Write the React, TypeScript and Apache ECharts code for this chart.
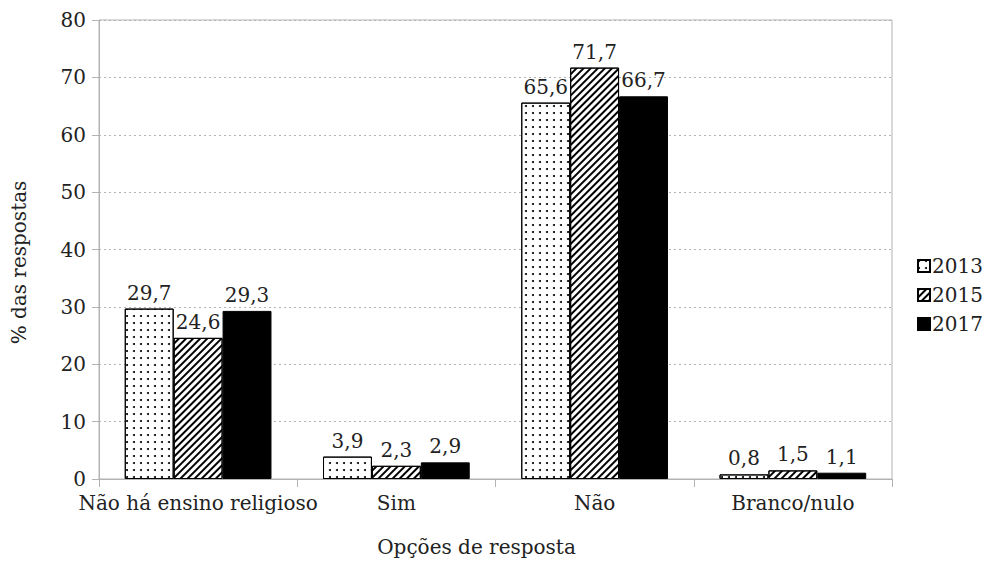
import React, { useEffect, useRef } from "react";
import * as echarts from "echarts";

const categories = ["Não há ensino religioso", "Sim", "Não", "Branco/nulo"];
const years = ["2013", "2015", "2017"];
const values2013 = [29.7, 3.9, 65.6, 0.8];
const values2015 = [24.6, 2.3, 71.7, 1.5];
const values2017 = [29.3, 2.9, 66.7, 1.1];
const yTicks = { min: 0, max: 80, interval: 10 };

const FONT = "DejaVu Serif";
const FS = 20;
const TEXT = "#222";
const GREY = "#b3b3b3";

export default function App() {
  const ref = useRef<HTMLDivElement>(null);
  useEffect(() => {
    if (!ref.current) return;
    const chart = echarts.init(ref.current, undefined, { renderer: "svg" });
    const label = {
      show: true,
      position: "top" as const,
      distance: 6,
      color: TEXT,
      fontFamily: FONT,
      fontSize: FS,
      formatter: (p: any) => String(p.value).replace(".", ","),
    };
    const styles = [
      {
        color: "#fff",
        borderColor: "#000",
        borderWidth: 1,
        decal: {
          symbol: "circle",
          symbolSize: 1,
          color: "#000",
          dashArrayX: [1.3, 5],
          dashArrayY: [1.3, 4.5],
        },
      },
      {
        color: "#fff",
        borderColor: "#000",
        borderWidth: 1,
        decal: {
          symbol: "rect",
          symbolSize: 1,
          color: "#000",
          dashArrayX: [1, 0],
          dashArrayY: [1.4, 2.4],
          rotation: -Math.PI / 4,
        },
      },
      { color: "#000", borderColor: "#000", borderWidth: 1 },
    ];
    const data = [values2013, values2015, values2017];
    chart.setOption({
      animation: false,
      textStyle: { fontFamily: FONT, color: TEXT },
      grid: {
        left: 99,
        right: 96,
        top: 20,
        bottom: 78,
        show: true,
        borderColor: GREY,
        borderWidth: 1,
      },
      legend: {
        orient: "vertical",
        left: 912,
        top: 251,
        itemWidth: 12,
        itemHeight: 12,
        itemGap: 9,
        icon: "rect",
        textStyle: { fontFamily: FONT, fontSize: FS, color: TEXT, padding: [0, 0, 0, -3] },
        data: years,
      },
      xAxis: {
        type: "category",
        data: categories,
        name: "Opções de resposta",
        nameLocation: "middle",
        nameGap: 58,
        nameTextStyle: { fontFamily: FONT, fontSize: FS, color: TEXT, padding: [0, 38, 0, 0] },
        axisLine: { lineStyle: { color: GREY, width: 1 } },
        axisTick: { show: true, length: 8, lineStyle: { color: GREY } },
        axisLabel: { interval: 0, fontFamily: FONT, fontSize: FS, color: TEXT, margin: 14 },
      },
      yAxis: {
        type: "value",
        min: yTicks.min,
        max: yTicks.max,
        interval: yTicks.interval,
        name: "% das respostas",
        nameLocation: "middle",
        nameGap: 70,
        nameTextStyle: { fontFamily: FONT, fontSize: FS, color: TEXT, padding: [0, 26, 0, 0] },
        axisLine: { show: true, lineStyle: { color: GREY, width: 1 } },
        axisTick: { show: true, length: 7, lineStyle: { color: GREY } },
        axisLabel: { fontFamily: FONT, fontSize: FS, color: TEXT, margin: 13 },
        splitLine: { show: true, lineStyle: { color: GREY, type: [2, 3] } },
      },
      series: years.map((y, i) => ({
        name: y,
        type: "bar",
        data: data[i],
        barGap: "0%",
        barCategoryGap: "26%",
        itemStyle: styles[i],
        label,
      })),
    });
    return () => chart.dispose();
  }, []);
  return (
    <div
      ref={ref}
      style={{ position: "absolute", left: 0, top: 0, width: 988, height: 562 }}
    />
  );
}
